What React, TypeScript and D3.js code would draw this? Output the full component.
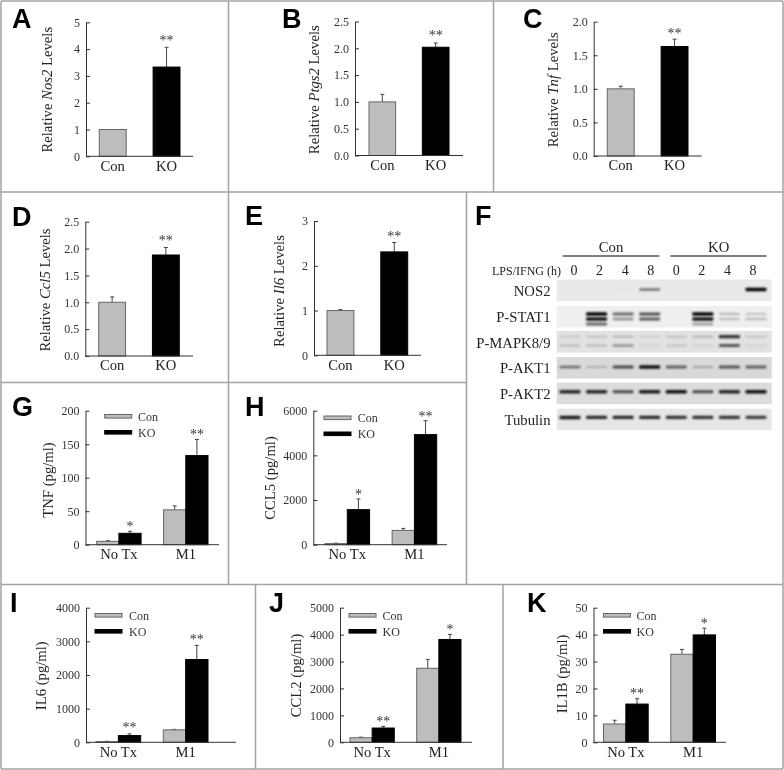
import { useRef, useEffect } from 'react';
import * as d3 from 'd3';

const serif = '"Liberation Serif", serif';
const sans = '"Liberation Sans", sans-serif';
const inkColor = '#333';
const conColor = '#bdbdbd';
const koColor = '#000';

// Two-bar panels (A-E)
const genotypes = ['Con', 'KO'];
const nos2Values = [1, 3.33];
const nos2Tops = [1, 4.07];
const ptgs2Values = [1, 2.02];
const ptgs2Tops = [1.14, 2.1];
const tnfValues = [1, 1.63];
const tnfTops = [1.04, 1.74];
const ccl5Values = [1, 1.88];
const ccl5Tops = [1.1, 2.02];
const il6Values = [1, 2.31];
const il6Tops = [1.02, 2.52];

// Grouped panels (G-K)
const treatments = ['No Tx', 'M1'];
const tnfProteinCon = [5, 52];
const tnfProteinConTops = [6, 58];
const tnfProteinKo = [17, 133];
const tnfProteinKoTops = [20, 157];
const ccl5ProteinCon = [50, 640];
const ccl5ProteinConTops = [70, 730];
const ccl5ProteinKo = [1570, 4930];
const ccl5ProteinKoTops = [2050, 5550];
const il6ProteinCon = [20, 370];
const il6ProteinConTops = [30, 385];
const il6ProteinKo = [200, 2460];
const il6ProteinKoTops = [250, 2880];
const ccl2ProteinCon = [170, 2750];
const ccl2ProteinConTops = [190, 3080];
const ccl2ProteinKo = [530, 3820];
const ccl2ProteinKoTops = [590, 4010];
const il1bProteinCon = [6.8, 32.7];
const il1bProteinConTops = [8.2, 34.5];
const il1bProteinKo = [14.2, 39.9];
const il1bProteinKoTops = [16.2, 42.4];

// Blot (F): lane labels and band strengths per lane, 0 to 1
const laneLabels = ['0', '2', '4', '8', '0', '2', '4', '8'];
const blotNames = ['NOS2', 'P-STAT1', 'P-MAPK8/9', 'P-AKT1', 'P-AKT2', 'Tubulin'];
const nos2Bands = [[0, 0, 0.03, 0.5, 0, 0, 0, 0.95]];
const stat1Bands = [
  [0, 0.95, 0.55, 0.65, 0, 0.95, 0.25, 0.2],
  [0, 0.9, 0.4, 0.6, 0, 0.9, 0.25, 0.25],
  [0, 0.55, 0, 0, 0, 0.35, 0, 0]
];
const mapkBands = [
  [0.12, 0.15, 0.2, 0.1, 0.15, 0.2, 0.75, 0.15],
  [0.2, 0.2, 0.35, 0.08, 0.15, 0.1, 0.6, 0.08]
];
const akt1Bands = [[0.5, 0.2, 0.65, 0.9, 0.55, 0.25, 0.6, 0.55]];
const akt2Bands = [[0.8, 0.8, 0.65, 0.85, 0.9, 0.65, 0.8, 0.9]];
const tubulinBands = [[0.85, 0.8, 0.8, 0.8, 0.75, 0.75, 0.75, 0.7]];

const blots = [
  { bands: nos2Bands, top: 279.5, offsets: [10], fill: '#e9e9e9', baseline: 295.7 },
  { bands: stat1Bands, top: 306, offsets: [8, 13, 18], fill: '#efefef', baseline: 321.7 },
  { bands: mapkBands, top: 331, offsets: [5.7, 14.5], fill: '#e2e2e2', baseline: 347.7 },
  { bands: akt1Bands, top: 357, offsets: [10], fill: '#d9d9d9', baseline: 372.7 },
  { bands: akt2Bands, top: 382.7, offsets: [9], fill: '#dcdcdc', baseline: 398.7 },
  { bands: tubulinBands, top: 408.7, offsets: [8.7], fill: '#e6e6e6', baseline: 424.7 }
];

const twoBarPanels = [
  { letter: 'A', lx: 12, ly: 28, prefix: 'Relative ', gene: 'Nos2', x: 86, top: 22.3, bottom: 156.3, end: 193, barL: 99.3, barR: 180, max: 5, ticks: [0, 1, 2, 3, 4, 5], fmt: 'd', labelX: 52, labelY: 89.7, values: nos2Values, tops: nos2Tops, stars: ['', '**'], gap: 9 },
  { letter: 'B', lx: 282, ly: 28, prefix: 'Relative ', gene: 'Ptgs2', x: 355, top: 21.5, bottom: 155.5, end: 463, barL: 369, barR: 449, max: 2.5, ticks: [0, 0.5, 1, 1.5, 2, 2.5], fmt: '.1f', labelX: 319, labelY: 89.7, values: ptgs2Values, tops: ptgs2Tops, stars: ['', '**'], gap: 9 },
  { letter: 'C', lx: 523, ly: 28, prefix: 'Relative ', gene: 'Tnf', x: 593.7, top: 21.7, bottom: 156, end: 701.7, barL: 607.3, barR: 688, max: 2, ticks: [0, 0.5, 1, 1.5, 2], fmt: '.1f', labelX: 558.3, labelY: 89.7, values: tnfValues, tops: tnfTops, stars: ['', '**'], gap: 8 },
  { letter: 'D', lx: 12, ly: 225.7, prefix: 'Relative ', gene: 'Ccl5', x: 85.3, top: 221.7, bottom: 356, end: 193, barL: 98.7, barR: 179.3, max: 2.5, ticks: [0, 0.5, 1, 1.5, 2, 2.5], fmt: '.1f', labelX: 50, labelY: 290, values: ccl5Values, tops: ccl5Tops, stars: ['', '**'], gap: 9 },
  { letter: 'E', lx: 245, ly: 225, prefix: 'Relative ', gene: 'Il6', x: 314, top: 221, bottom: 355.3, end: 421, barL: 327, barR: 407.7, max: 3, ticks: [0, 1, 2, 3], fmt: 'd', labelX: 284, labelY: 291, values: il6Values, tops: il6Tops, stars: ['', '**'], gap: 8 }
];

const groupedPanels = [
  { letter: 'G', lx: 12, ly: 415.7, title: 'TNF (pg/ml)', x: 85.5, top: 410.7, bottom: 544.7, end: 219, barL: 96.7, barR: 208, max: 200, ticks: [0, 50, 100, 150, 200], labelX: 52.7, labelY: 480, con: tnfProteinCon, conTops: tnfProteinConTops, ko: tnfProteinKo, koTops: tnfProteinKoTops, conStars: ['', ''], koStars: ['*', '**'], gap: 7, swatchX: 104.7, swatchY: 414.5, legendX: 138 },
  { letter: 'H', lx: 245, ly: 416, title: 'CCL5 (pg/ml)', x: 313.3, top: 410.7, bottom: 544.7, end: 447, barL: 325, barR: 436.7, max: 6000, ticks: [0, 2000, 4000, 6000], labelX: 275, labelY: 478, con: ccl5ProteinCon, conTops: ccl5ProteinConTops, ko: ccl5ProteinKo, koTops: ccl5ProteinKoTops, conStars: ['', ''], koStars: ['*', '**'], gap: 6, swatchX: 324, swatchY: 416, legendX: 357.7 },
  { letter: 'I', lx: 10, ly: 611.7, title: 'IL6 (pg/ml)', x: 86, top: 607.7, bottom: 742.3, end: 236, barL: 96, barR: 208, max: 4000, ticks: [0, 1000, 2000, 3000, 4000], labelX: 46, labelY: 675.7, con: il6ProteinCon, conTops: il6ProteinConTops, ko: il6ProteinKo, koTops: il6ProteinKoTops, conStars: ['', ''], koStars: ['**', '**'], gap: 8, swatchX: 95, swatchY: 613.5, legendX: 129 },
  { letter: 'J', lx: 269, ly: 611.7, title: 'CCL2 (pg/ml)', x: 340, top: 607.7, bottom: 742.3, end: 472, barL: 350, barR: 461, max: 5000, ticks: [0, 1000, 2000, 3000, 4000, 5000], labelX: 301, labelY: 675.5, con: ccl2ProteinCon, conTops: ccl2ProteinConTops, ko: ccl2ProteinKo, koTops: ccl2ProteinKoTops, conStars: ['', ''], koStars: ['**', '*'], gap: 7, swatchX: 349, swatchY: 613.5, legendX: 382.5 },
  { letter: 'K', lx: 527, ly: 611.7, title: 'IL1B (pg/ml)', x: 593.5, top: 607.7, bottom: 742.3, end: 726, barL: 603.5, barR: 715.5, max: 50, ticks: [0, 10, 20, 30, 40, 50], labelX: 567, labelY: 674, con: il1bProteinCon, conTops: il1bProteinConTops, ko: il1bProteinKo, koTops: il1bProteinKoTops, conStars: ['', ''], koStars: ['**', '*'], gap: 7, swatchX: 603.5, swatchY: 613.5, legendX: 636.5 }
];

type Sel = d3.Selection<SVGGElement, unknown, null, undefined>;

function drawLetter(g: Sel, letter: string, x: number, y: number) {
  g.append('text')
    .attr('x', x).attr('y', y)
    .attr('font-family', sans).attr('font-weight', 700).attr('font-size', 27)
    .attr('fill', '#000')
    .text(letter);
}

function drawYAxis(g: Sel, p: any, y: d3.ScaleLinear<number, number>, format: (v: number) => string) {
  const axis = g.append('g')
    .attr('transform', `translate(${p.x},0)`)
    .call(d3.axisLeft(y).tickValues(p.ticks).tickFormat(format as any).tickSizeInner(-4).tickSizeOuter(0).tickPadding(6));
  axis.selectAll('path, line').attr('stroke', inkColor);
  axis.selectAll('text').attr('font-family', serif).attr('font-size', 12).attr('fill', inkColor);
  g.append('line')
    .attr('x1', p.x).attr('x2', p.end)
    .attr('y1', p.bottom).attr('y2', p.bottom)
    .attr('stroke', inkColor);
}

function drawXLabels(g: Sel, p: any, x: d3.ScaleBand<string>) {
  const axis = g.append('g')
    .attr('transform', `translate(0,${p.bottom})`)
    .call(d3.axisBottom(x).tickSize(0).tickPadding(4));
  axis.select('.domain').remove();
  axis.selectAll('text').attr('font-family', serif).attr('font-size', 14.6).attr('fill', '#222');
}

function drawBar(g: Sel, p: any, x0: number, width: number, value: number, top: number, star: string, color: string, y: d3.ScaleLinear<number, number>) {
  const cx = x0 + width / 2;
  if (top > value) {
    g.append('line').attr('x1', cx).attr('x2', cx).attr('y1', y(value)).attr('y2', y(top)).attr('stroke', '#444');
    g.append('line').attr('x1', cx - 2).attr('x2', cx + 2).attr('y1', y(top)).attr('y2', y(top)).attr('stroke', '#444');
  }
  g.append('rect')
    .attr('x', x0).attr('y', y(value))
    .attr('width', width).attr('height', p.bottom - y(value))
    .attr('fill', color).attr('stroke', color === koColor ? '#000' : '#666');
  if (star) {
    g.append('text')
      .attr('x', cx).attr('y', y(top) - p.gap + 6.5)
      .attr('text-anchor', 'middle')
      .attr('font-family', serif).attr('font-size', 14).attr('fill', '#333')
      .text(star);
  }
}

function drawYLabel(g: Sel, p: any) {
  const label = g.append('text')
    .attr('transform', `translate(${p.labelX},${p.labelY}) rotate(-90)`)
    .attr('text-anchor', 'middle')
    .attr('font-family', serif).attr('font-size', 14.7).attr('fill', '#222');
  if (p.gene) {
    label.append('tspan').text(p.prefix);
    label.append('tspan').attr('font-style', 'italic').text(p.gene);
    label.append('tspan').text(' Levels');
  } else {
    label.text(p.title);
  }
}

export default function App() {
  const svgRef = useRef<SVGSVGElement>(null);

  useEffect(() => {
    if (!svgRef.current) return;
    const svg = d3.select(svgRef.current);
    svg.selectAll('*').remove();

    const defs = svg.append('defs');
    // a thin rect has no height to spare, so the filter region is set in pixels
    const blur = defs.append('filter').attr('id', 'band-blur')
      .attr('filterUnits', 'userSpaceOnUse')
      .attr('x', 540).attr('y', 270).attr('width', 244).attr('height', 170);
    blur.append('feGaussianBlur').attr('stdDeviation', 1);

    // the source is a soft scan, so everything gets a slight blur
    const soft = defs.append('filter').attr('id', 'soft')
      .attr('filterUnits', 'userSpaceOnUse')
      .attr('x', 0).attr('y', 0).attr('width', 784).attr('height', 770);
    soft.append('feGaussianBlur').attr('stdDeviation', 0.35);

    // Panel frame
    const root = svg.append('g').attr('filter', 'url(#soft)') as unknown as Sel;
    const frame = [
      [1, 1, 783, 1], [1, 769, 783, 769], [1, 1, 1, 769], [783, 1, 783, 769],
      [1, 192, 783, 192], [1, 382.5, 467, 382.5], [1, 584.5, 783, 584.5],
      [228.5, 1, 228.5, 584.5], [493.5, 1, 493.5, 192], [466.5, 192, 466.5, 584.5],
      [255.5, 584.5, 255.5, 769], [503, 584.5, 503, 769]
    ];
    frame.forEach(([x1, y1, x2, y2]) => {
      root.append('line')
        .attr('x1', x1).attr('y1', y1).attr('x2', x2).attr('y2', y2)
        .attr('stroke', '#a3a3a3').attr('stroke-width', 1.5);
    });

    // Two-bar panels
    twoBarPanels.forEach(p => {
      const g = root.append('g') as unknown as Sel;
      const y = d3.scaleLinear().domain([0, p.max]).range([p.bottom, p.top]);
      const x = d3.scaleBand<string>().domain(genotypes).range([p.barL, p.barR]).paddingInner(0.5).paddingOuter(0);
      drawLetter(g, p.letter, p.lx, p.ly);
      genotypes.forEach((name, i) => {
        drawBar(g, p, x(name)!, x.bandwidth(), p.values[i], p.tops[i], p.stars[i], i === 0 ? conColor : koColor, y);
      });
      drawYAxis(g, p, y, d3.format(p.fmt));
      drawXLabels(g, p, x);
      drawYLabel(g, p);
    });

    // Grouped panels
    groupedPanels.forEach(p => {
      const g = root.append('g') as unknown as Sel;
      const y = d3.scaleLinear().domain([0, p.max]).range([p.bottom, p.top]);
      const x = d3.scaleBand<string>().domain(treatments).range([p.barL, p.barR]).paddingInner(0.336).paddingOuter(0);
      const inner = d3.scaleBand<string>().domain(genotypes).range([0, x.bandwidth()]);
      drawLetter(g, p.letter, p.lx, p.ly);
      treatments.forEach((name, i) => {
        const x0 = x(name)!;
        drawBar(g, p, x0 + inner('Con')!, inner.bandwidth(), p.con[i], p.conTops[i], p.conStars[i], conColor, y);
        drawBar(g, p, x0 + inner('KO')!, inner.bandwidth(), p.ko[i], p.koTops[i], p.koStars[i], koColor, y);
      });
      drawYAxis(g, p, y, d3.format('d'));
      drawXLabels(g, p, x);
      drawYLabel(g, p);

      genotypes.forEach((name, i) => {
        const sy = p.swatchY + i * 16;
        g.append('rect')
          .attr('x', p.swatchX).attr('y', sy).attr('width', 27).attr('height', 3.6)
          .attr('fill', i === 0 ? conColor : koColor)
          .attr('stroke', i === 0 ? '#666' : '#000');
        g.append('text')
          .attr('x', p.legendX).attr('y', sy + 6)
          .attr('font-family', serif).attr('font-size', 12).attr('fill', '#333')
          .text(name);
      });
    });

    // Western blot
    const f = root.append('g') as unknown as Sel;
    drawLetter(f, 'F', 475, 225);
    const blotLeft = 556.7;
    const blotWidth = 215;
    const laneX = d3.scalePoint<number>().domain(d3.range(8)).range([570, 756]);
    const labelX = d3.scalePoint<number>().domain(d3.range(8)).range([574, 753]);

    [{ name: 'Con', cx: 611, x1: 562.7, x2: 659.3 }, { name: 'KO', cx: 718.7, x1: 670.3, x2: 766.7 }].forEach(h => {
      f.append('text').attr('x', h.cx).attr('y', 251.7).attr('text-anchor', 'middle')
        .attr('font-family', serif).attr('font-size', 14.7).attr('fill', '#222').text(h.name);
      f.append('line').attr('x1', h.x1).attr('x2', h.x2).attr('y1', 256).attr('y2', 256)
        .attr('stroke', '#000').attr('stroke-width', 1.2);
    });
    f.append('text').attr('x', 561).attr('y', 275).attr('text-anchor', 'end')
      .attr('font-family', serif).attr('font-size', 12).attr('fill', '#222').text('LPS/IFNG (h)');
    laneLabels.forEach((label, i) => {
      f.append('text').attr('x', labelX(i)!).attr('y', 275).attr('text-anchor', 'middle')
        .attr('font-family', serif).attr('font-size', 14).attr('fill', '#222').text(label);
    });

    blots.forEach((blot, row) => {
      f.append('rect').attr('x', blotLeft).attr('y', blot.top)
        .attr('width', blotWidth).attr('height', 21.5).attr('fill', blot.fill);
      f.append('text').attr('x', 550.5).attr('y', blot.baseline).attr('text-anchor', 'end')
        .attr('font-family', serif).attr('font-size', 14.7).attr('fill', '#222').text(blotNames[row]);
      blot.bands.forEach((tier, t) => {
        tier.forEach((strength, lane) => {
          if (strength <= 0) return;
          const thickness = 1.6 + strength * 2.2;
          f.append('rect')
            .attr('x', laneX(lane)! - 10.5).attr('y', blot.top + blot.offsets[t] - thickness / 2)
            .attr('width', 21).attr('height', thickness)
            .attr('rx', 1.2)
            .attr('fill', '#000').attr('fill-opacity', Math.min(1, strength * 1.05))
            .attr('filter', 'url(#band-blur)');
        });
      });
    });
  }, []);

  return (
    <svg
      ref={svgRef}
      width={784}
      height={770}
      style={{ position: 'absolute', left: 0, top: 0, background: '#fff' }}
    />
  );
}
